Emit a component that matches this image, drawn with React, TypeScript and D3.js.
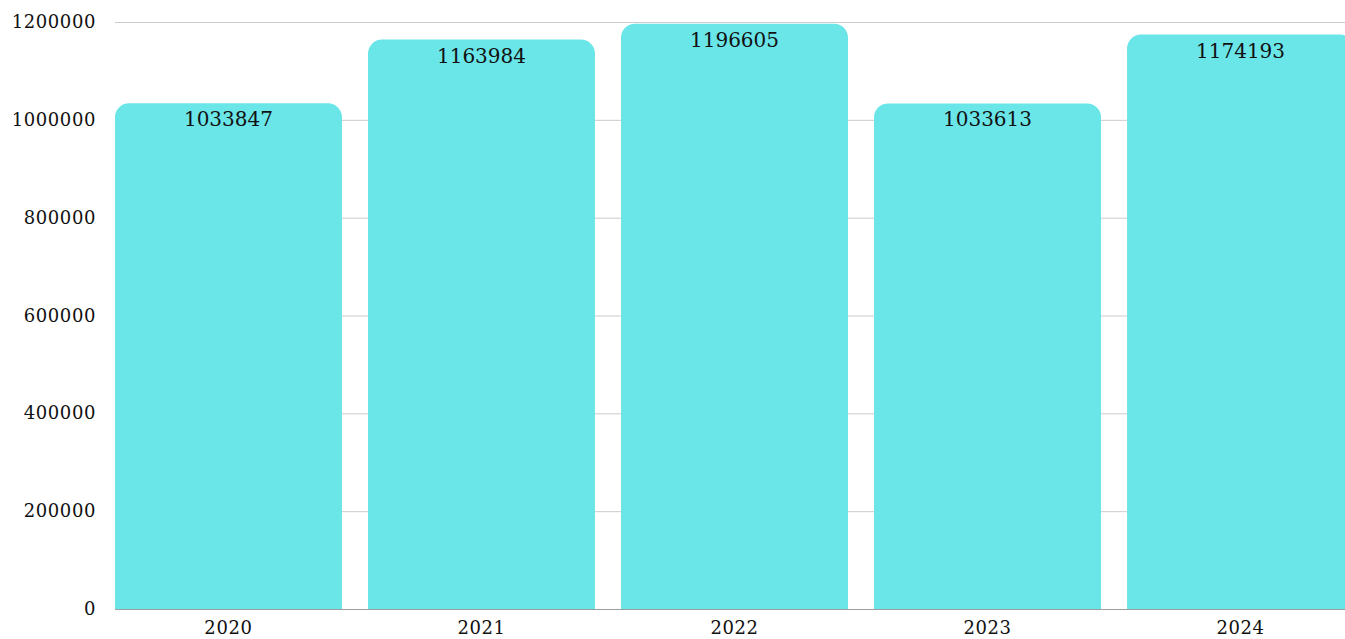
import * as d3 from "d3";
import { useEffect, useRef } from "react";

const years = ["2020", "2021", "2022", "2023", "2024"];
const totals = [1033847, 1163984, 1196605, 1033613, 1174193];
const yTicks = [0, 200000, 400000, 600000, 800000, 1000000, 1200000];

const App: React.FC = () => {
  const ref = useRef<SVGSVGElement | null>(null);

  useEffect(() => {
    const svg = d3.select(ref.current);
    svg.selectAll("*").remove();

    const width = 1345;
    const height = 639;
    const left = 115;
    const top = 22;
    const bottom = 609;

    const x = d3
      .scaleBand()
      .domain(years)
      .range([left, 1354])
      .paddingInner(0.103)
      .paddingOuter(0);

    const y = d3.scaleLinear().domain([0, 1200000]).range([bottom, top]);

    // gridlines
    svg
      .append("g")
      .selectAll("line")
      .data(yTicks)
      .enter()
      .append("line")
      .attr("x1", left)
      .attr("x2", width)
      .attr("y1", (d) => y(d) + 0.5)
      .attr("y2", (d) => y(d) + 0.5)
      .attr("stroke", (d) => (d === 0 ? "#9e9e9e" : "#cccccc"))
      .attr("stroke-width", 1);

    // y tick labels
    svg
      .append("g")
      .selectAll("text")
      .data(yTicks)
      .enter()
      .append("text")
      .attr("x", 96)
      .attr("y", (d) => y(d) + 6)
      .attr("text-anchor", "end")
      .style("font-family", "'DejaVu Serif', serif")
      .style("font-size", "18px")
      .style("letter-spacing", "0.6px")
      .style("fill", "#111")
      .text((d) => String(d));

    const r = 14;
    const bars = years.map((yr, i) => ({ yr, v: totals[i] }));

    svg
      .append("g")
      .selectAll("path")
      .data(bars)
      .enter()
      .append("path")
      .attr("d", (d) => {
        const x0 = x(d.yr) ?? 0;
        const w = x.bandwidth();
        const y0 = y(d.v);
        const p = d3.path();
        p.moveTo(x0, bottom);
        p.lineTo(x0, y0 + r);
        p.arcTo(x0, y0, x0 + r, y0, r);
        p.lineTo(x0 + w - r, y0);
        p.arcTo(x0 + w, y0, x0 + w, y0 + r, r);
        p.lineTo(x0 + w, bottom);
        p.closePath();
        return p.toString();
      })
      .attr("fill", "#6ae5e8");

    // value labels
    svg
      .append("g")
      .selectAll("text")
      .data(bars)
      .enter()
      .append("text")
      .attr("x", (d) => (x(d.yr) ?? 0) + x.bandwidth() / 2)
      .attr("y", (d) => y(d.v) + 23)
      .attr("text-anchor", "middle")
      .style("font-family", "'DejaVu Serif', serif")
      .style("font-size", "20px")
      .style("fill", "#111")
      .text((d) => String(d.v));

    // x labels
    svg
      .append("g")
      .selectAll("text")
      .data(years)
      .enter()
      .append("text")
      .attr("x", (d) => (x(d) ?? 0) + x.bandwidth() / 2)
      .attr("y", 634)
      .attr("text-anchor", "middle")
      .style("font-family", "'DejaVu Serif', serif")
      .style("font-size", "18px")
      .style("letter-spacing", "0.6px")
      .style("fill", "#111")
      .text((d) => d);

    svg.attr("width", width).attr("height", height);
  }, []);

  return (
    <svg
      ref={ref}
      style={{ position: "absolute", left: 0, top: 0, display: "block" }}
    ></svg>
  );
};

export default App;
